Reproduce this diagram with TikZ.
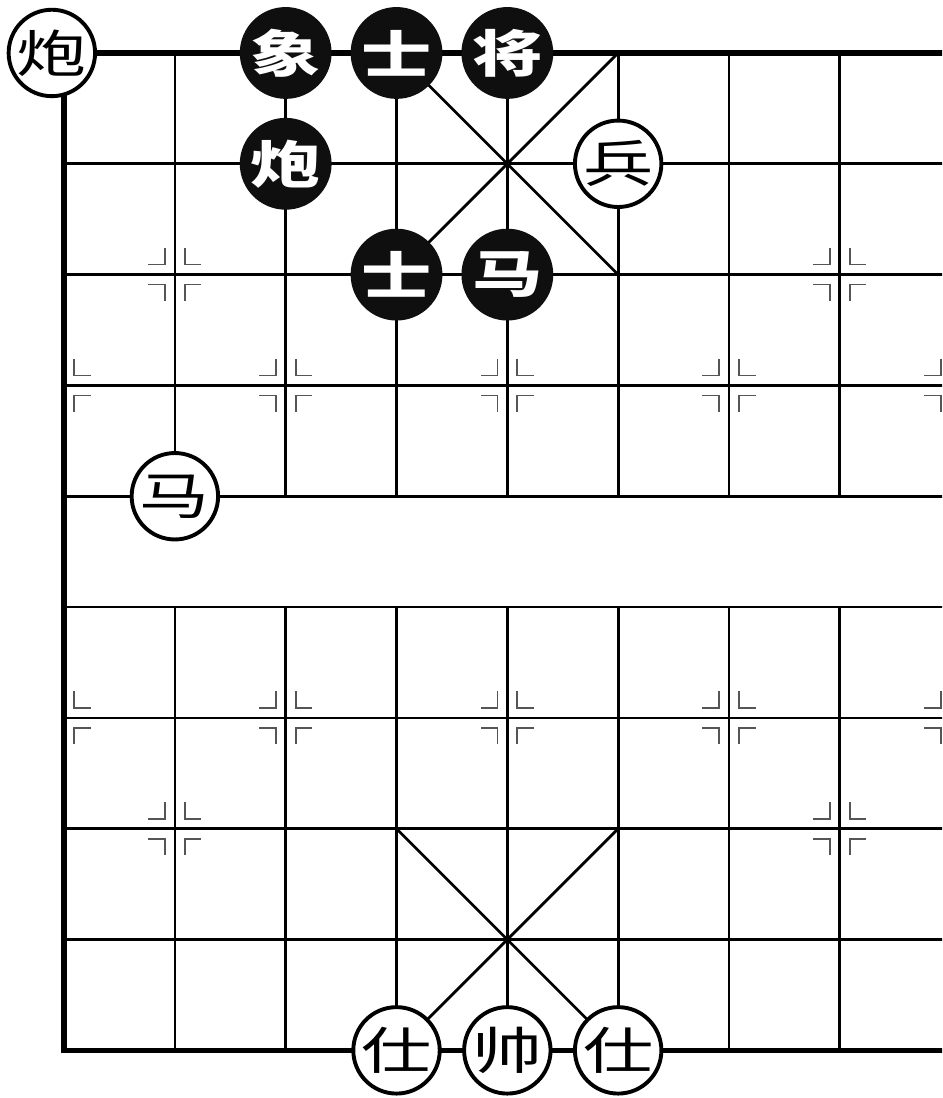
\documentclass[tikz,border=0pt]{standalone}
\usepackage{fontspec}
\usepackage{graphicx}
\usepackage{tikz}
\usetikzlibrary{shapes,arrows,positioning}
\newfontfamily\cjk{Noto Sans CJK SC}
\definecolor{piece_dark}{RGB}{15,15,15}
\definecolor{mark_grey}{RGB}{85,85,85}
\newcommand{\piecetext}[1]{\scalebox{1}[0.72]{#1}}

\begin{document}
\begin{tikzpicture}[x=1.5cm, y=-1.5cm,
    gridline/.style={line width=1.05pt},
    borderline/.style={line width=2pt},
    posmark/.style={mark_grey, line width=0.65pt},
    whitepiece/.style={draw, circle, line width=1.5pt, fill=white, minimum size=1.17cm, inner sep=0pt, font=\cjk\fontsize{27}{27}\selectfont},
    blackpiece/.style={draw=piece_dark, circle, line width=1.5pt, fill=piece_dark, text=white, minimum size=1.19cm, inner sep=0pt, font=\cjk\bfseries\fontsize{27}{27}\selectfont}]
    \useasboundingbox (-0.578,-0.478) rectangle (7.924,9.43);
    \clip (-0.578,-0.478) rectangle (7.924,9.43);
    \fill[white] (-0.578,-0.478) rectangle (7.924,9.43);

    % board lines
    \foreach \r in {1,...,8} \draw[gridline] (0,\r) -- (8,\r);
    \foreach \c in {1,...,7} {
        \draw[gridline] (\c,0) -- (\c,4);
        \draw[gridline] (\c,5) -- (\c,9);
    }
    \draw[borderline] (8,0) -- (0,0) -- (0,9) -- (8,9);
    \draw[gridline] (3,0) -- (5,2);
    \draw[gridline] (5,0) -- (3,2);
    \draw[gridline] (3,7) -- (5,9);
    \draw[gridline] (5,7) -- (3,9);

    % position marks
    \foreach \px/\py/\sides in {1/2/{-1,1}, 7/2/{-1,1}, 0/3/{1}, 2/3/{-1,1}, 4/3/{-1,1}, 6/3/{-1,1}, 8/3/{-1},
        0/6/{1}, 2/6/{-1,1}, 4/6/{-1,1}, 6/6/{-1,1}, 8/6/{-1}, 1/7/{-1,1}, 7/7/{-1,1}}
        \foreach \sx in \sides
            \foreach \sy in {-1,1}
                \draw[posmark] (\px+\sx*0.09,\py+\sy*0.24) -- (\px+\sx*0.09,\py+\sy*0.09) -- (\px+\sx*0.24,\py+\sy*0.09);

    % black side
    \node[blackpiece] (b_xiang) at (2,0) {\piecetext{象}};
    \node[blackpiece] (b_shi1) at (3,0) {\piecetext{士}};
    \node[blackpiece] (b_jiang) at (4,0) {\piecetext{将}};
    \node[blackpiece] (b_pao) at (2,1) {\piecetext{炮}};
    \node[blackpiece] (b_shi2) at (3,2) {\piecetext{士}};
    \node[blackpiece] (b_ma) at (4,2) {\piecetext{马}};

    % white side
    \node[whitepiece] (w_pao) at (-0.11,0) {\piecetext{炮}};
    \node[whitepiece] (w_bing) at (5,1) {\piecetext{兵}};
    \node[whitepiece] (w_ma) at (1,4) {\piecetext{马}};
    \node[whitepiece] (w_shi1) at (3,9) {\piecetext{仕}};
    \node[whitepiece] (w_shuai) at (4,9) {\piecetext{帅}};
    \node[whitepiece] (w_shi2) at (5,9) {\piecetext{仕}};
\end{tikzpicture}
\end{document}
